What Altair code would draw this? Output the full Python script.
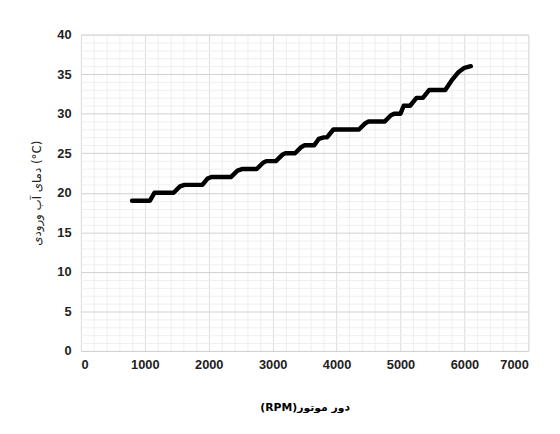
import altair as alt
import pandas as pd

rpm = [800, 1080, 1150, 1450, 1550, 1620, 1900, 1980, 2050, 2350, 2450, 2520, 2750, 2850, 2900,
       3050, 3150, 3200, 3350, 3450, 3500, 3650, 3720, 3800, 3850, 3950, 4350, 4450, 4500, 4750,
       4850, 4900, 5000, 5050, 5150, 5250, 5350, 5450, 5550, 5700, 5800, 5900, 6000, 6100]
temp = [19, 19, 20, 20, 20.8, 21, 21, 21.8, 22, 22, 22.8, 23, 23, 23.8, 24,
        24, 24.8, 25, 25, 25.8, 26, 26, 26.8, 27, 27, 28, 28, 28.8, 29, 29,
        29.8, 30, 30, 31, 31, 32, 32, 33, 33, 33, 34.2, 35.2, 35.8, 36]

df = pd.DataFrame({"rpm": rpm, "temp": temp})

x_vals = list(range(0, 7001, 200))
y_vals = list(range(0, 41, 1))

line = alt.Chart(df).mark_line(color="black", strokeWidth=4.5, strokeCap="round", strokeJoin="round").encode(
    x=alt.X("rpm:Q", scale=alt.Scale(domain=[0, 7000], nice=False),
            title="(RPM)دور موتور",
            axis=alt.Axis(values=x_vals, labelExpr="datum.value % 1000 === 0 ? datum.label : ''",
                          format="d", ticks=False, domain=False, labelPadding=8,
                          gridColor={"condition": {"test": "datum.value % 1000 === 0", "value": "#dcdcdc"}, "value": "#efefef"},
                          labelFont="Liberation Sans", labelFontWeight="bold", labelFontSize=13, labelColor="#222",
                          titleFont="DejaVu Sans", titleFontWeight="bold", titleFontSize=11, titlePadding=30)),
    y=alt.Y("temp:Q", scale=alt.Scale(domain=[0, 40], nice=False),
            title="دمای آب ورودی (°C)",
            axis=alt.Axis(values=y_vals, labelExpr="datum.value % 5 === 0 ? datum.label : ''",
                          ticks=False, domain=False, labelPadding=10,
                          gridColor={"condition": {"test": "datum.value % 5 === 0", "value": "#d0d0d0"}, "value": "#efefef"},
                          labelFont="Liberation Sans", labelFontWeight="bold", labelFontSize=13, labelColor="#222",
                          titleFont="DejaVu Sans", titleFontSize=12, titleFontWeight="normal", titleColor="#222", titlePadding=14)),
)

chart = line.properties(
    width=454, height=321,
    autosize=alt.AutoSizeParams(type="none"),
    padding={"left": 74, "top": 24, "right": 24, "bottom": 60},
).configure_view(stroke="#e6e6e6")

chart.save("out.html", embed_options={"renderer": "svg", "actions": False})
